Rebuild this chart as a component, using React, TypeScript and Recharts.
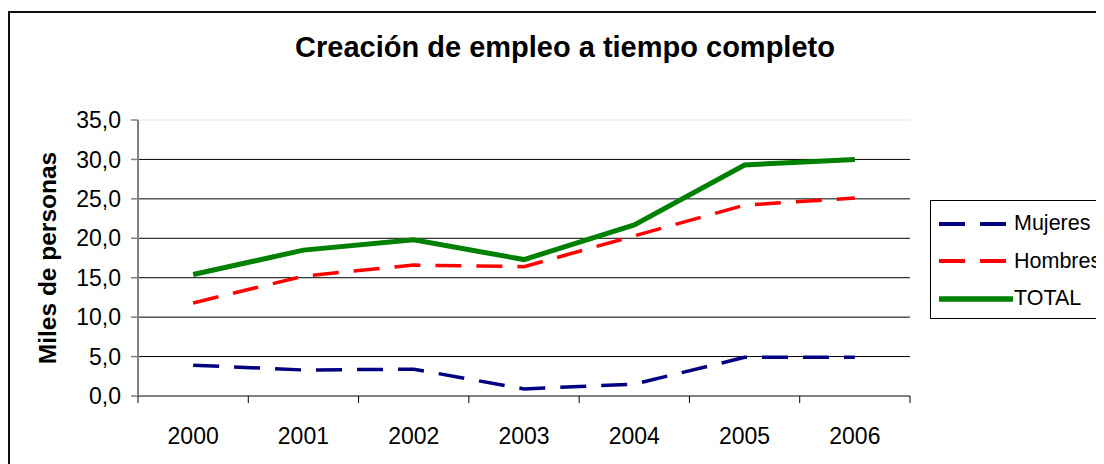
import React from 'react';
import { LineChart, Line, XAxis, YAxis, CartesianGrid, Legend, ReferenceLine, Label } from 'recharts';

const years = ['2000', '2001', '2002', '2003', '2004', '2005', '2006'];
const mujeres = [3.9, 3.3, 3.4, 0.9, 1.5, 4.9, 4.9];
const hombres = [11.8, 15.2, 16.6, 16.4, 20.3, 24.2, 25.1];
const total = [15.4, 18.5, 19.8, 17.3, 21.7, 29.3, 30.0];
const yTicks = [0, 5, 10, 15, 20, 25, 30, 35];
const gridValues = [5, 10, 15, 20, 25, 30];
const title = 'Creación de empleo a tiempo completo';
const yTitle = 'Miles de personas';

const data = years.map((y, i) => ({ x: i, year: y, Mujeres: mujeres[i], Hombres: hombres[i], TOTAL: total[i] }));
const xTicks: number[] = [];
years.forEach((_, i) => { xTicks.push(i - 0.5); xTicks.push(i); });
xTicks.push(years.length - 0.5);

const FONT = '"Liberation Sans", Arial, sans-serif';

const series = [
  { key: 'Mujeres', color: '#000080', width: 3.5, dash: '26 15' },
  { key: 'Hombres', color: '#FF0000', width: 3.5, dash: '26 15' },
  { key: 'TOTAL', color: '#008000', width: 5, dash: undefined as string | undefined },
];

const XTick = (props: any) => {
  const { x, y, payload } = props;
  const v = payload.value;
  if (Number.isInteger(v)) {
    return (
      <text x={x} y={y + 41} textAnchor="middle" fontFamily={FONT} fontSize={23} fill="#000">
        {years[v]}
      </text>
    );
  }
  return <line x1={x} x2={x} y1={y - 7} y2={y} stroke="#000" strokeWidth={1} />;
};

const LegendContent = (props: any) => {
  const payload = props.payload || [];
  const ordered = series.filter((s) => payload.some((p: any) => p.value === s.key || p.dataKey === s.key));
  return (
    <div style={{ border: '1px solid #000', background: '#fff', width: 220, height: 113, padding: '4px 0 0 6px', boxSizing: 'content-box', fontFamily: FONT, fontSize: 21.5 }}>
      {ordered.map((s) => (
        <div key={s.key} style={{ height: 37.5, display: 'flex', alignItems: 'center' }}>
          <svg width={76} height={10} style={{ display: 'block' }}>
            <line x1={2} x2={76} y1={5} y2={5} stroke={s.color} strokeWidth={s.dash ? 4 : 5.5} strokeDasharray={s.dash} />
          </svg>
          <span style={{ marginLeft: 1, color: '#000', lineHeight: 1 }}>{s.key}</span>
        </div>
      ))}
    </div>
  );
};

const YLabel = (props: any) => {
  const vb = props.viewBox;
  const cx = vb.x + 37;
  const cy = vb.y + vb.height / 2;
  return (
    <text x={cx} y={cy} transform={`rotate(-90, ${cx}, ${cy})`} textAnchor="middle" dominantBaseline="central" fontFamily={FONT} fontWeight="bold" fontSize={24.5} fill="#000">
      {yTitle}
    </text>
  );
};

export default function App() {
  return (
    <div style={{ position: 'relative', width: 1096, height: 456, overflow: 'hidden', background: '#fff' }}>
      <div style={{ position: 'absolute', left: 0, top: 3, width: 1140, height: 470, border: '2px solid #111', boxSizing: 'content-box' }}>
        <div style={{ position: 'absolute', left: 0, top: 18, width: 1110, textAlign: 'center', fontFamily: FONT, fontWeight: 'bold', fontSize: 29, lineHeight: '32px', color: '#000' }}>
          {title}
        </div>
        <LineChart width={1140} height={460} data={data} margin={{ top: 107, right: 240, bottom: 27, left: 0 }}>
          <CartesianGrid horizontalValues={gridValues} vertical={false} stroke="#000" strokeWidth={1} />
          <ReferenceLine y={35} stroke="#e4e4e4" strokeWidth={1} />
          <XAxis
            dataKey="x"
            type="number"
            domain={[-0.5, years.length - 0.5]}
            ticks={xTicks}
            interval={0}
            height={50}
            axisLine={{ stroke: '#808080', strokeWidth: 2 }}
            tickLine={false}
            tickSize={7}
            tickMargin={0}
            tick={<XTick />}
          />
          <YAxis
            width={128}
            domain={[0, 35]}
            ticks={yTicks}
            interval={0}
            axisLine={{ stroke: '#808080', strokeWidth: 2 }}
            tickLine={{ stroke: '#808080', strokeWidth: 1.5 }}
            tickSize={7}
            tickMargin={10}
            tickFormatter={(v: number) => v.toFixed(1).replace('.', ',')}
            tick={{ fontFamily: FONT, fontSize: 23, fill: '#000' }}
          >
            <Label content={<YLabel />} />
          </YAxis>
          <Legend
            layout="vertical"
            align="center"
            verticalAlign="middle"
            content={<LegendContent />}
            wrapperStyle={{ left: 920, top: 187, width: 230 }}
          />
          {series.map((s) => (
            <Line
              key={s.key}
              type="linear"
              dataKey={s.key}
              stroke={s.color}
              strokeWidth={s.width}
              strokeDasharray={s.dash}
              dot={false}
              activeDot={false}
              isAnimationActive={false}
            />
          ))}
        </LineChart>
      </div>
    </div>
  );
}
